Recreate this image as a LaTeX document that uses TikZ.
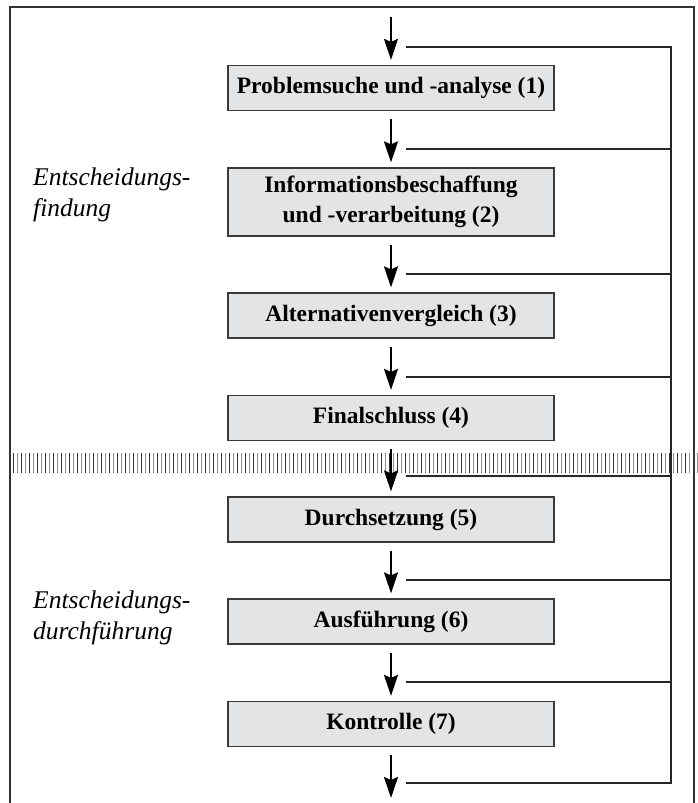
\documentclass[tikz,border=0pt]{standalone}
\usepackage{fontspec}
\setmainfont{Liberation Serif}
\usetikzlibrary{arrows.meta}
\definecolor{boxfill}{HTML}{E3E4E6}
\definecolor{boxline}{HTML}{3A3A3A}
\definecolor{hatchgray}{HTML}{8C8C8C}
\tikzset{
  procbox/.style={draw=boxline, line width=1.2pt, fill=boxfill, minimum width=326pt, minimum height=45pt, inner sep=0pt, align=center, font=\fontsize{23.5}{30}\selectfont\bfseries},
  flowarrow/.style={line width=2.2pt, -{Stealth[length=21pt,width=14pt,inset=3pt]}},
  fbline/.style={line width=1.3pt, draw=black!85},
  framel/.style={line width=1.6pt, draw=black!80},
  sidelabel/.style={anchor=west, align=left, inner sep=0pt, font=\fontsize{25.5}{31}\selectfont\itshape}
}
\begin{document}
\begin{tikzpicture}[x=1pt,y=-1pt]
\useasboundingbox (0,0) rectangle (698,803);
% frame (open at the bottom)
\draw[framel] (10,803) -- (10,7) -- (694,7) -- (694,803);
% separator band
\foreach \i in {0,...,171}{
  \pgfmathsetmacro{\xx}{13+4*\i}
  \ifodd\i
    \draw[line width=1pt, hatchgray] (\xx,453) -- (\xx,473);
  \else
    \draw[line width=1pt, black!80] (\xx,453) -- (\xx,473);
  \fi
}
% boxes
\node[procbox] (b1) at (391,88) {Problemsuche und -analyse (1)};
\node[procbox, minimum height=68pt] (b2) at (391,202) {Informationsbeschaffung\\und -verarbeitung (2)};
\node[procbox] (b3) at (391,315.5) {Alternativenvergleich (3)};
\node[procbox] (b4) at (391,418) {Finalschluss (4)};
\node[procbox] (b5) at (391,519.5) {Durchsetzung (5)};
\node[procbox] (b6) at (391,621.5) {Ausführung (6)};
\node[procbox] (b7) at (391,724) {Kontrolle (7)};
% side labels
\node[sidelabel] (l1) at (33,195) {Entscheidungs-\\findung};
\node[sidelabel] (l2) at (33,618) {Entscheidungs-\\durchführung};
% arrow coordinates
\coordinate (s1) at (391,17);
\coordinate (e8) at (391,798);
% feedback coordinates
\coordinate (f1) at (406,47);
\coordinate (f2) at (406,149);
\coordinate (f3) at (406,274);
\coordinate (f4) at (406,377);
\coordinate (f5) at (406,476);
\coordinate (f6) at (406,580);
\coordinate (f7) at (406,682);
\coordinate (f8) at (406,783);
\coordinate (rt) at (671,47);
\coordinate (rb) at (671,783);
% feedback lines
\draw[fbline] (f1) -- (rt) -- (rb) -- (f8);
\foreach \k in {2,...,7}{
  \draw[fbline] (f\k) -- (f\k -| rt);
}
% flow arrows
\draw[flowarrow] (s1) -- ([yshift=5pt]b1.north);
\draw[flowarrow] ([yshift=-8pt]b1.south) -- ([yshift=5pt]b2.north);
\draw[flowarrow] ([yshift=-8pt]b2.south) -- ([yshift=5pt]b3.north);
\draw[flowarrow] ([yshift=-8pt]b3.south) -- ([yshift=5pt]b4.north);
\draw[flowarrow] ([yshift=-8pt]b4.south) -- ([yshift=5pt]b5.north);
\draw[flowarrow] ([yshift=-8pt]b5.south) -- ([yshift=5pt]b6.north);
\draw[flowarrow] ([yshift=-8pt]b6.south) -- ([yshift=5pt]b7.north);
\draw[flowarrow] ([yshift=-8pt]b7.south) -- (e8);
\end{tikzpicture}
\end{document}
